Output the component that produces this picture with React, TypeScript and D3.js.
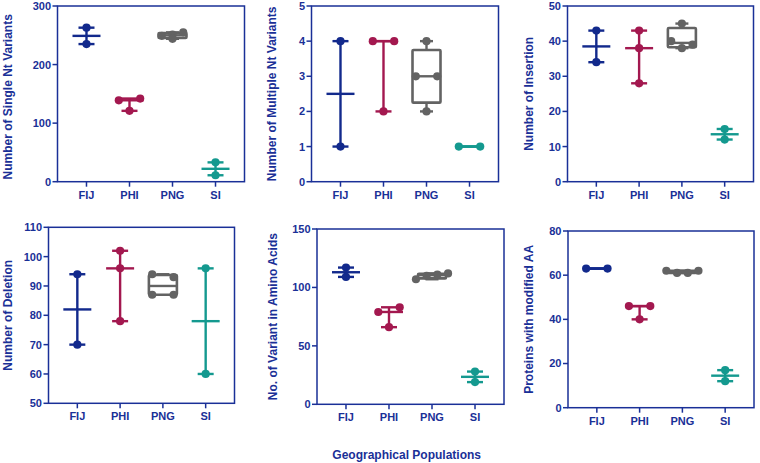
import React from 'react';
import * as d3 from 'd3';

const categories = ['FIJ', 'PHI', 'PNG', 'SI'];
const groupColors = ['#12298c', '#a3184f', '#636363', '#14998f'];

const singleNt = [[263, 235], [139, 142, 121], [244, 249, 251, 255], [33, 11]];
const multipleNt = [[4, 1], [4, 4, 2], [4, 3, 3, 2], [1, 1]];
const insertions = [[43, 34], [43, 38, 28], [45, 40, 39, 38], [15, 12]];
const deletions = [[94, 70], [102, 96, 78], [94, 93, 87, 87], [96, 60]];
const aaVariants = [[117, 109], [79, 83, 66], [107, 110, 111, 112], [28, 19]];
const modifiedAA = [[63, 63], [46, 46, 40], [62, 61, 61, 62], [17, 12]];

const titles = [
  'Number of Single Nt Variants',
  'Number of Multiple Nt Variants',
  'Number of Insertion',
  'Number of Deletion',
  'No. of Variant in Amino Acids',
  'Proteins with modified AA',
];
const domains: [number, number][] = [[0, 300], [0, 5], [0, 50], [50, 110], [0, 150], [0, 80]];
const tickSets = [
  [0, 100, 200, 300],
  [0, 1, 2, 3, 4, 5],
  [0, 10, 20, 30, 40, 50],
  [50, 60, 70, 80, 90, 100, 110],
  [0, 50, 100, 150],
  [0, 20, 40, 60, 80],
];
const panelData = [singleNt, multipleNt, insertions, deletions, aaVariants, modifiedAA];
const xTitle = 'Geographical Populations';

// layout (positions only)
const layouts = [
  { left: 57.5, top: 6, width: 187, height: 175.7, titleX: 8, titleDY: 3 },
  { left: 311.5, top: 6, width: 187, height: 175.7, titleX: 272, titleDY: 0 },
  { left: 567.5, top: 6, width: 186, height: 175.7, titleX: 529, titleDY: 0 },
  { left: 48.5, top: 227.3, width: 186, height: 176, titleX: 7.5, titleDY: 0 },
  { left: 317, top: 229, width: 187, height: 175.3, titleX: 273, titleDY: 0 },
  { left: 568, top: 231, width: 186, height: 176.7, titleX: 529, titleDY: 0 },
];

const NAVY = '#1a3097';
const FONT = '"Liberation Sans", Arial, Helvetica, sans-serif';

function quartile(sorted: number[], p: number) {
  const n = sorted.length;
  const pos = (n + 1) * p;
  if (pos <= 1) return sorted[0];
  if (pos >= n) return sorted[n - 1];
  const lo = Math.floor(pos);
  return sorted[lo - 1] + (pos - lo) * (sorted[lo] - sorted[lo - 1]);
}

function spreadPoints(vals: number[], y: (v: number) => number) {
  // group points of near-equal pixel height into rows, spread symmetrically (input order)
  const order = vals.map((v, i) => ({ v, i })).sort((a, b) => b.v - a.v);
  const rows: { v: number; i: number }[][] = [];
  order.forEach((p) => {
    const row = rows[rows.length - 1];
    if (row && Math.abs(y(row[0].v) - y(p.v)) < 6) row.push(p);
    else rows.push([p]);
  });
  const out: { v: number; dx: number }[] = [];
  rows.forEach((row) => {
    const k = row.length;
    row.sort((a, b) => a.i - b.i);
    const spacing = k === 1 ? 0 : k === 2 ? 21.4 : 10.7;
    row.forEach((p, j) => out.push({ v: p.v, dx: (j - (k - 1) / 2) * spacing }));
  });
  return out;
}

function Panel({ idx }: { idx: number }) {
  const L = layouts[idx];
  const data = panelData[idx];
  const x = d3
    .scalePoint<string>()
    .domain(categories)
    .range([L.left, L.left + L.width])
    .padding(0.674);
  const y = d3.scaleLinear().domain(domains[idx]).range([L.top + L.height, L.top]);
  const bottom = L.top + L.height;
  return (
    <g>
      <rect x={L.left} y={L.top} width={L.width} height={L.height} fill="none" stroke={NAVY} strokeWidth={1.5} />
      {tickSets[idx].map((t) => (
        <g key={t}>
          <line x1={L.left - 5} x2={L.left} y1={y(t)} y2={y(t)} stroke={NAVY} strokeWidth={1.5} />
          <text
            x={L.left - 6.5}
            y={y(t)}
            dy="0.36em"
            textAnchor="end"
            fontSize={11}
            fontWeight="bold"
            fill={NAVY}
            fontFamily={FONT}
          >
            {t}
          </text>
        </g>
      ))}
      {categories.map((c) => (
        <g key={c}>
          <line x1={x(c)} x2={x(c)} y1={bottom} y2={bottom + 5} stroke={NAVY} strokeWidth={1.5} />
          <text
            x={x(c)}
            y={bottom + 17}
            textAnchor="middle"
            fontSize={11}
            fontWeight="bold"
            fill={NAVY}
            fontFamily={FONT}
          >
            {c}
          </text>
        </g>
      ))}
      <text
        transform={`translate(${L.titleX},${L.top + L.height / 2 + L.titleDY}) rotate(-90)`}
        dy="0.36em"
        textAnchor="middle"
        fontSize={12}
        fontWeight="bold"
        fill={NAVY}
        fontFamily={FONT}
      >
        {titles[idx]}
      </text>
      {data.map((vals, gi) => {
        const cx = x(categories[gi]) as number;
        const color = groupColors[gi];
        const s = [...vals].sort((a, b) => a - b);
        const mn = s[0];
        const mx = s[s.length - 1];
        const med = d3.median(s) as number;
        const isBox = s.length >= 4;
        const q1 = quartile(s, 0.25);
        const q3 = quartile(s, 0.75);
        const capW = isBox ? 6.5 : 8;
        const pts = spreadPoints(vals, y);
        return (
          <g key={gi}>
            <line x1={cx} x2={cx} y1={y(mn)} y2={y(mx)} stroke={color} strokeWidth={2.4} />
            <line x1={cx - capW} x2={cx + capW} y1={y(mn)} y2={y(mn)} stroke={color} strokeWidth={2.4} />
            <line x1={cx - capW} x2={cx + capW} y1={y(mx)} y2={y(mx)} stroke={color} strokeWidth={2.4} />
            {isBox && (
              <rect
                x={cx - 14}
                y={y(q3)}
                width={28}
                height={Math.max(0, y(q1) - y(q3))}
                fill="#fff"
                stroke={color}
                strokeWidth={2.6}
                rx={1}
              />
            )}
            <line x1={cx - 14} x2={cx + 14} y1={y(med)} y2={y(med)} stroke={color} strokeWidth={2.4} />
            {pts.map((p, pi) => (
              <circle key={pi} cx={cx + p.dx} cy={y(p.v)} r={4.1} fill={color} />
            ))}
          </g>
        );
      })}
    </g>
  );
}

export default function App() {
  return (
    <svg
      width={760}
      height={463}
      style={{ position: 'absolute', left: 0, top: 0, background: '#fff' }}
    >
      <rect width={760} height={463} fill="#fff" />
      {layouts.map((_, i) => (
        <Panel key={i} idx={i} />
      ))}
      <text
        x={406.7}
        y={455}
        dy="0.36em"
        textAnchor="middle"
        fontSize={12}
        fontWeight="bold"
        fill={NAVY}
        fontFamily={FONT}
      >
        {xTitle}
      </text>
    </svg>
  );
}
